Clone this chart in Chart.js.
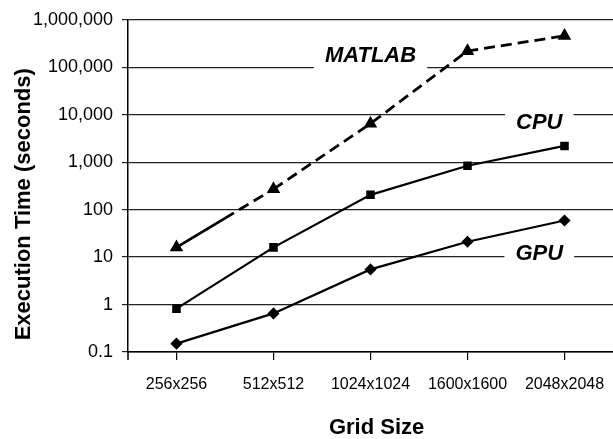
<!DOCTYPE html>
<html>
<head>
<meta charset="utf-8">
<script src="https://cdn.jsdelivr.net/npm/chart.js@4.4.0/dist/chart.umd.min.js"></script>
<style>
html, body { margin: 0; padding: 0; background: #fff; }
canvas { display: block; }
</style>
</head>
<body>
<canvas id="chart" width="613" height="439"></canvas>
<script>
// Data
const gridSizes = ['256x256', '512x512', '1024x1024', '1600x1600', '2048x2048'];
const matlabTimes = [16, 270, 6500, 220000, 460000];
const cpuTimes = [0.82, 16, 205, 840, 2200];
const gpuTimes = [0.15, 0.65, 5.5, 21, 59];
const yTickValues = [0.1, 1, 10, 100, 1000, 10000, 100000, 1000000];
const yTickLabels = ['0.1', '1', '10', '100', '1,000', '10,000', '100,000', '1,000,000'];
// in-plot series names: [text, category position, value]
const seriesLabels = [['MATLAB', 2.0, 170000], ['CPU', 3.74, 6600], ['GPU', 3.74, 11.8]];

const tickFont = '"Liberation Sans", Arial, sans-serif';
const titleFont = '"Liberation Sans", Arial, sans-serif';

// white boxed labels that sit on the grid, under the lines
const seriesLabelPlugin = {
    id: 'seriesLabels',
    beforeDatasetsDraw(chart) {
        const { ctx, scales: { x, y }, chartArea } = chart;
        ctx.save();
        ctx.font = 'italic bold 22px ' + titleFont;
        ctx.textAlign = 'center';
        ctx.textBaseline = 'middle';
        seriesLabels.forEach(([text, cat, val]) => {
            const px = x.getPixelForValue(cat);
            const py = y.getPixelForValue(val);
            const w = ctx.measureText(text).width + 22;
            ctx.fillStyle = '#fff';
            ctx.fillRect(px - w / 2, py - 13, w, 26);
            ctx.fillStyle = '#000';
            ctx.fillText(text, px, py);
        });
        // value axis runs a little past the category axis
        ctx.strokeStyle = '#000';
        ctx.lineWidth = 1.5;
        ctx.beginPath();
        ctx.moveTo(chartArea.left, chartArea.bottom);
        ctx.lineTo(chartArea.left, chartArea.bottom + 8);
        ctx.stroke();
        ctx.restore();
    }
};

const ctx = document.getElementById('chart').getContext('2d');
new Chart(ctx, {
    type: 'line',
    data: {
        labels: gridSizes,
        datasets: [{
            label: 'MATLAB',
            data: matlabTimes,
            borderColor: '#000',
            backgroundColor: '#000',
            borderWidth: 2.8,
            pointStyle: 'triangle',
            pointRadius: 5,
            segment: {
                borderDash: c => c.p0DataIndex === 0 ? [67, 6, 11, 6, 11, 6, 11, 6] : [11, 6]
            }
        }, {
            label: 'CPU',
            data: cpuTimes,
            borderColor: '#000',
            backgroundColor: '#000',
            borderWidth: 2.2,
            pointStyle: 'rect',
            pointRadius: 4.5
        }, {
            label: 'GPU',
            data: gpuTimes,
            borderColor: '#000',
            backgroundColor: '#000',
            borderWidth: 2.2,
            pointStyle: 'rectRot',
            pointRadius: 4.5
        }]
    },
    options: {
        responsive: false,
        animation: false,
        devicePixelRatio: 1,
        layout: {
            autoPadding: false,
            padding: { top: 19, left: 0, right: 0, bottom: 0 }
        },
        plugins: {
            legend: { display: false },
            tooltip: { enabled: false }
        },
        elements: {
            line: { tension: 0, borderCapStyle: 'butt' }
        },
        scales: {
            x: {
                type: 'category',
                offset: true,
                afterFit: s => { s.height = 87; s.paddingRight = 0; s.paddingLeft = 0; },
                grid: {
                    offset: false,
                    drawOnChartArea: false,
                    tickLength: 8,
                    color: '#000',
                    lineWidth: 1.2
                },
                border: { color: '#000', width: 1.5 },
                ticks: {
                    color: '#000',
                    padding: 15,
                    maxRotation: 0,
                    autoSkip: false,
                    font: { family: tickFont, size: 16 }
                },
                title: {
                    display: true,
                    text: '  Grid Size',
                    color: '#000',
                    padding: { top: 0, bottom: 0 },
                    font: { family: titleFont, size: 22, weight: 'bold', lineHeight: 1 }
                }
            },
            y: {
                type: 'logarithmic',
                min: 0.1,
                max: 1000000,
                afterFit: s => { s.width = 128; },
                afterBuildTicks: s => { s.ticks = yTickValues.map(v => ({ value: v })); },
                grid: {
                    color: '#222',
                    lineWidth: 1.2,
                    tickLength: 6
                },
                border: { color: '#000', width: 1.5 },
                ticks: {
                    color: '#000',
                    padding: 9,
                    font: { family: tickFont, size: 18 },
                    callback: (v, i) => yTickLabels[i]
                },
                title: {
                    display: true,
                    text: 'Execution Time (seconds)      ',
                    color: '#000',
                    padding: { top: 11, bottom: 0 },
                    font: { family: titleFont, size: 22, weight: 'bold', lineHeight: 1.2 }
                }
            }
        }
    },
    plugins: [seriesLabelPlugin]
});
</script>
</body>
</html>
